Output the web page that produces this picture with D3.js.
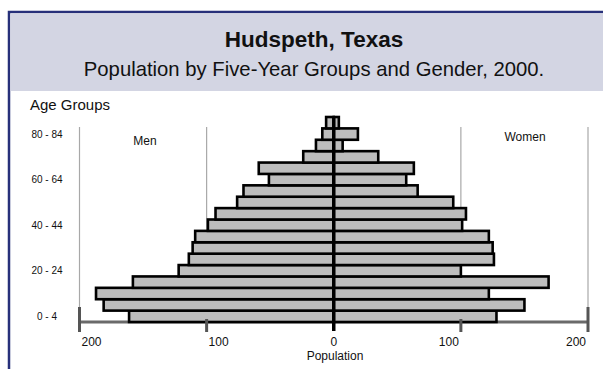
<!DOCTYPE html>
<html>
<head>
<meta charset="utf-8">
<script src="https://cdn.jsdelivr.net/npm/d3@7"></script>
<style>
  body { margin: 0; background: #fff; }
  svg { display: block; font-family: "Liberation Sans", Arial, sans-serif; }
</style>
</head>
<body>
<div class="chart-holder"></div>
<script>
// age groups, bottom to top
const ageGroups = ["0 - 4", "5 - 9", "10 - 14", "15 - 19", "20 - 24", "25 - 29", "30 - 34", "35 - 39",
  "40 - 44", "45 - 49", "50 - 54", "55 - 59", "60 - 64", "65 - 69", "70 - 74", "75 - 79", "80 - 84", "85+"];
const men = [161, 181, 187, 158, 122, 114, 111, 109, 99, 93, 76, 71, 51, 59, 24, 14, 9, 6];
const women = [128, 150, 122, 169, 100, 126, 125, 122, 101, 104, 94, 66, 57, 63, 35, 7, 19, 4];
const ageTicks = ["0 - 4", "20 - 24", "40 - 44", "60 - 64", "80 - 84"];
const popTicks = [-200, -100, 0, 100, 200];

const width = 603;
const height = 369;

const svg = d3.select(".chart-holder")
  .append("svg")
  .attr("width", width)
  .attr("height", height);

// frame + header
svg.append("rect")
  .attr("x", 9).attr("y", 12)
  .attr("width", 640).attr("height", 400)
  .attr("fill", "#fff")
  .attr("stroke", "#27307a").attr("stroke-width", 2.5);
svg.append("rect")
  .attr("x", 10.5).attr("y", 13.5)
  .attr("width", 620).attr("height", 77.5)
  .attr("fill", "#d3d5e3");

svg.append("text")
  .attr("x", 314).attr("y", 47)
  .attr("text-anchor", "middle")
  .attr("font-size", 22.5).attr("font-weight", "bold")
  .attr("fill", "#111")
  .text("Hudspeth, Texas");
svg.append("text")
  .attr("x", 314).attr("y", 76)
  .attr("text-anchor", "middle")
  .attr("font-size", 20.3)
  .attr("fill", "#111")
  .text("Population by Five-Year Groups and Gender, 2000.");

svg.append("text")
  .attr("x", 30).attr("y", 110)
  .attr("font-size", 15)
  .attr("fill", "#111")
  .text("Age Groups");

const x = d3.scaleLinear().domain([-200, 200]).range([79.5, 588]);
const y = d3.scaleBand().domain(ageGroups).range([322, 117]).padding(0);

const plotTop = 127;
const plotBottom = 322;

// gridlines
svg.append("g")
  .selectAll("line")
  .data(popTicks.filter(d => d !== 0))
  .join("line")
  .attr("x1", d => x(d)).attr("x2", d => x(d))
  .attr("y1", plotTop).attr("y2", plotBottom)
  .attr("stroke", "#a8a8a8").attr("stroke-width", 1.2);

svg.append("text")
  .attr("x", 145).attr("y", 145)
  .attr("text-anchor", "middle").attr("font-size", 12).attr("fill", "#111")
  .text("Men");
svg.append("text")
  .attr("x", 525).attr("y", 141)
  .attr("text-anchor", "middle").attr("font-size", 12).attr("fill", "#111")
  .text("Women");

// bottom axis line
svg.append("line")
  .attr("x1", x(-200)).attr("x2", x(200))
  .attr("y1", plotBottom).attr("y2", plotBottom)
  .attr("stroke", "#6a6a6a").attr("stroke-width", 3);

// bars
const rows = ageGroups.map((a, i) => ({ age: a, men: men[i], women: women[i] }));
const bars = svg.append("g");
bars.selectAll("rect.men")
  .data(rows)
  .join("rect")
  .attr("class", "men")
  .attr("x", d => x(-d.men))
  .attr("y", d => y(d.age))
  .attr("width", d => x(0) - x(-d.men))
  .attr("height", y.bandwidth())
  .attr("fill", "#bdbdbd")
  .attr("stroke", "#000").attr("stroke-width", 2.6);
bars.selectAll("rect.women")
  .data(rows)
  .join("rect")
  .attr("class", "women")
  .attr("x", x(0))
  .attr("y", d => y(d.age))
  .attr("width", d => x(d.women) - x(0))
  .attr("height", y.bandwidth())
  .attr("fill", "#bdbdbd")
  .attr("stroke", "#000").attr("stroke-width", 2.6);

// centre line
svg.append("line")
  .attr("x1", x(0)).attr("x2", x(0))
  .attr("y1", 116).attr("y2", 331)
  .attr("stroke", "#000").attr("stroke-width", 3.5);

// ticks
svg.append("g")
  .selectAll("line")
  .data(popTicks.filter(d => d !== 0))
  .join("line")
  .attr("x1", d => x(d)).attr("x2", d => x(d))
  .attr("y1", d => Math.abs(d) === 200 ? 307 : 319)
  .attr("y2", 332)
  .attr("stroke", "#555").attr("stroke-width", 3);

// x tick labels, nudged toward centre like the original
svg.append("g")
  .selectAll("text")
  .data(popTicks)
  .join("text")
  .attr("x", d => x(d) - Math.sign(d) * 12)
  .attr("y", 346)
  .attr("text-anchor", "middle")
  .attr("font-size", 12).attr("fill", "#111")
  .text(d => Math.abs(d));

svg.append("text")
  .attr("x", 335).attr("y", 360)
  .attr("text-anchor", "middle").attr("font-size", 12).attr("fill", "#111")
  .text("Population");

// y tick labels
svg.append("g")
  .selectAll("text")
  .data(ageTicks)
  .join("text")
  .attr("x", 47)
  .attr("y", d => y(d) + y.bandwidth() / 2 + 3.5)
  .attr("text-anchor", "middle")
  .attr("font-size", 10).attr("fill", "#111")
  .text(d => d);
</script>
</body>
</html>
